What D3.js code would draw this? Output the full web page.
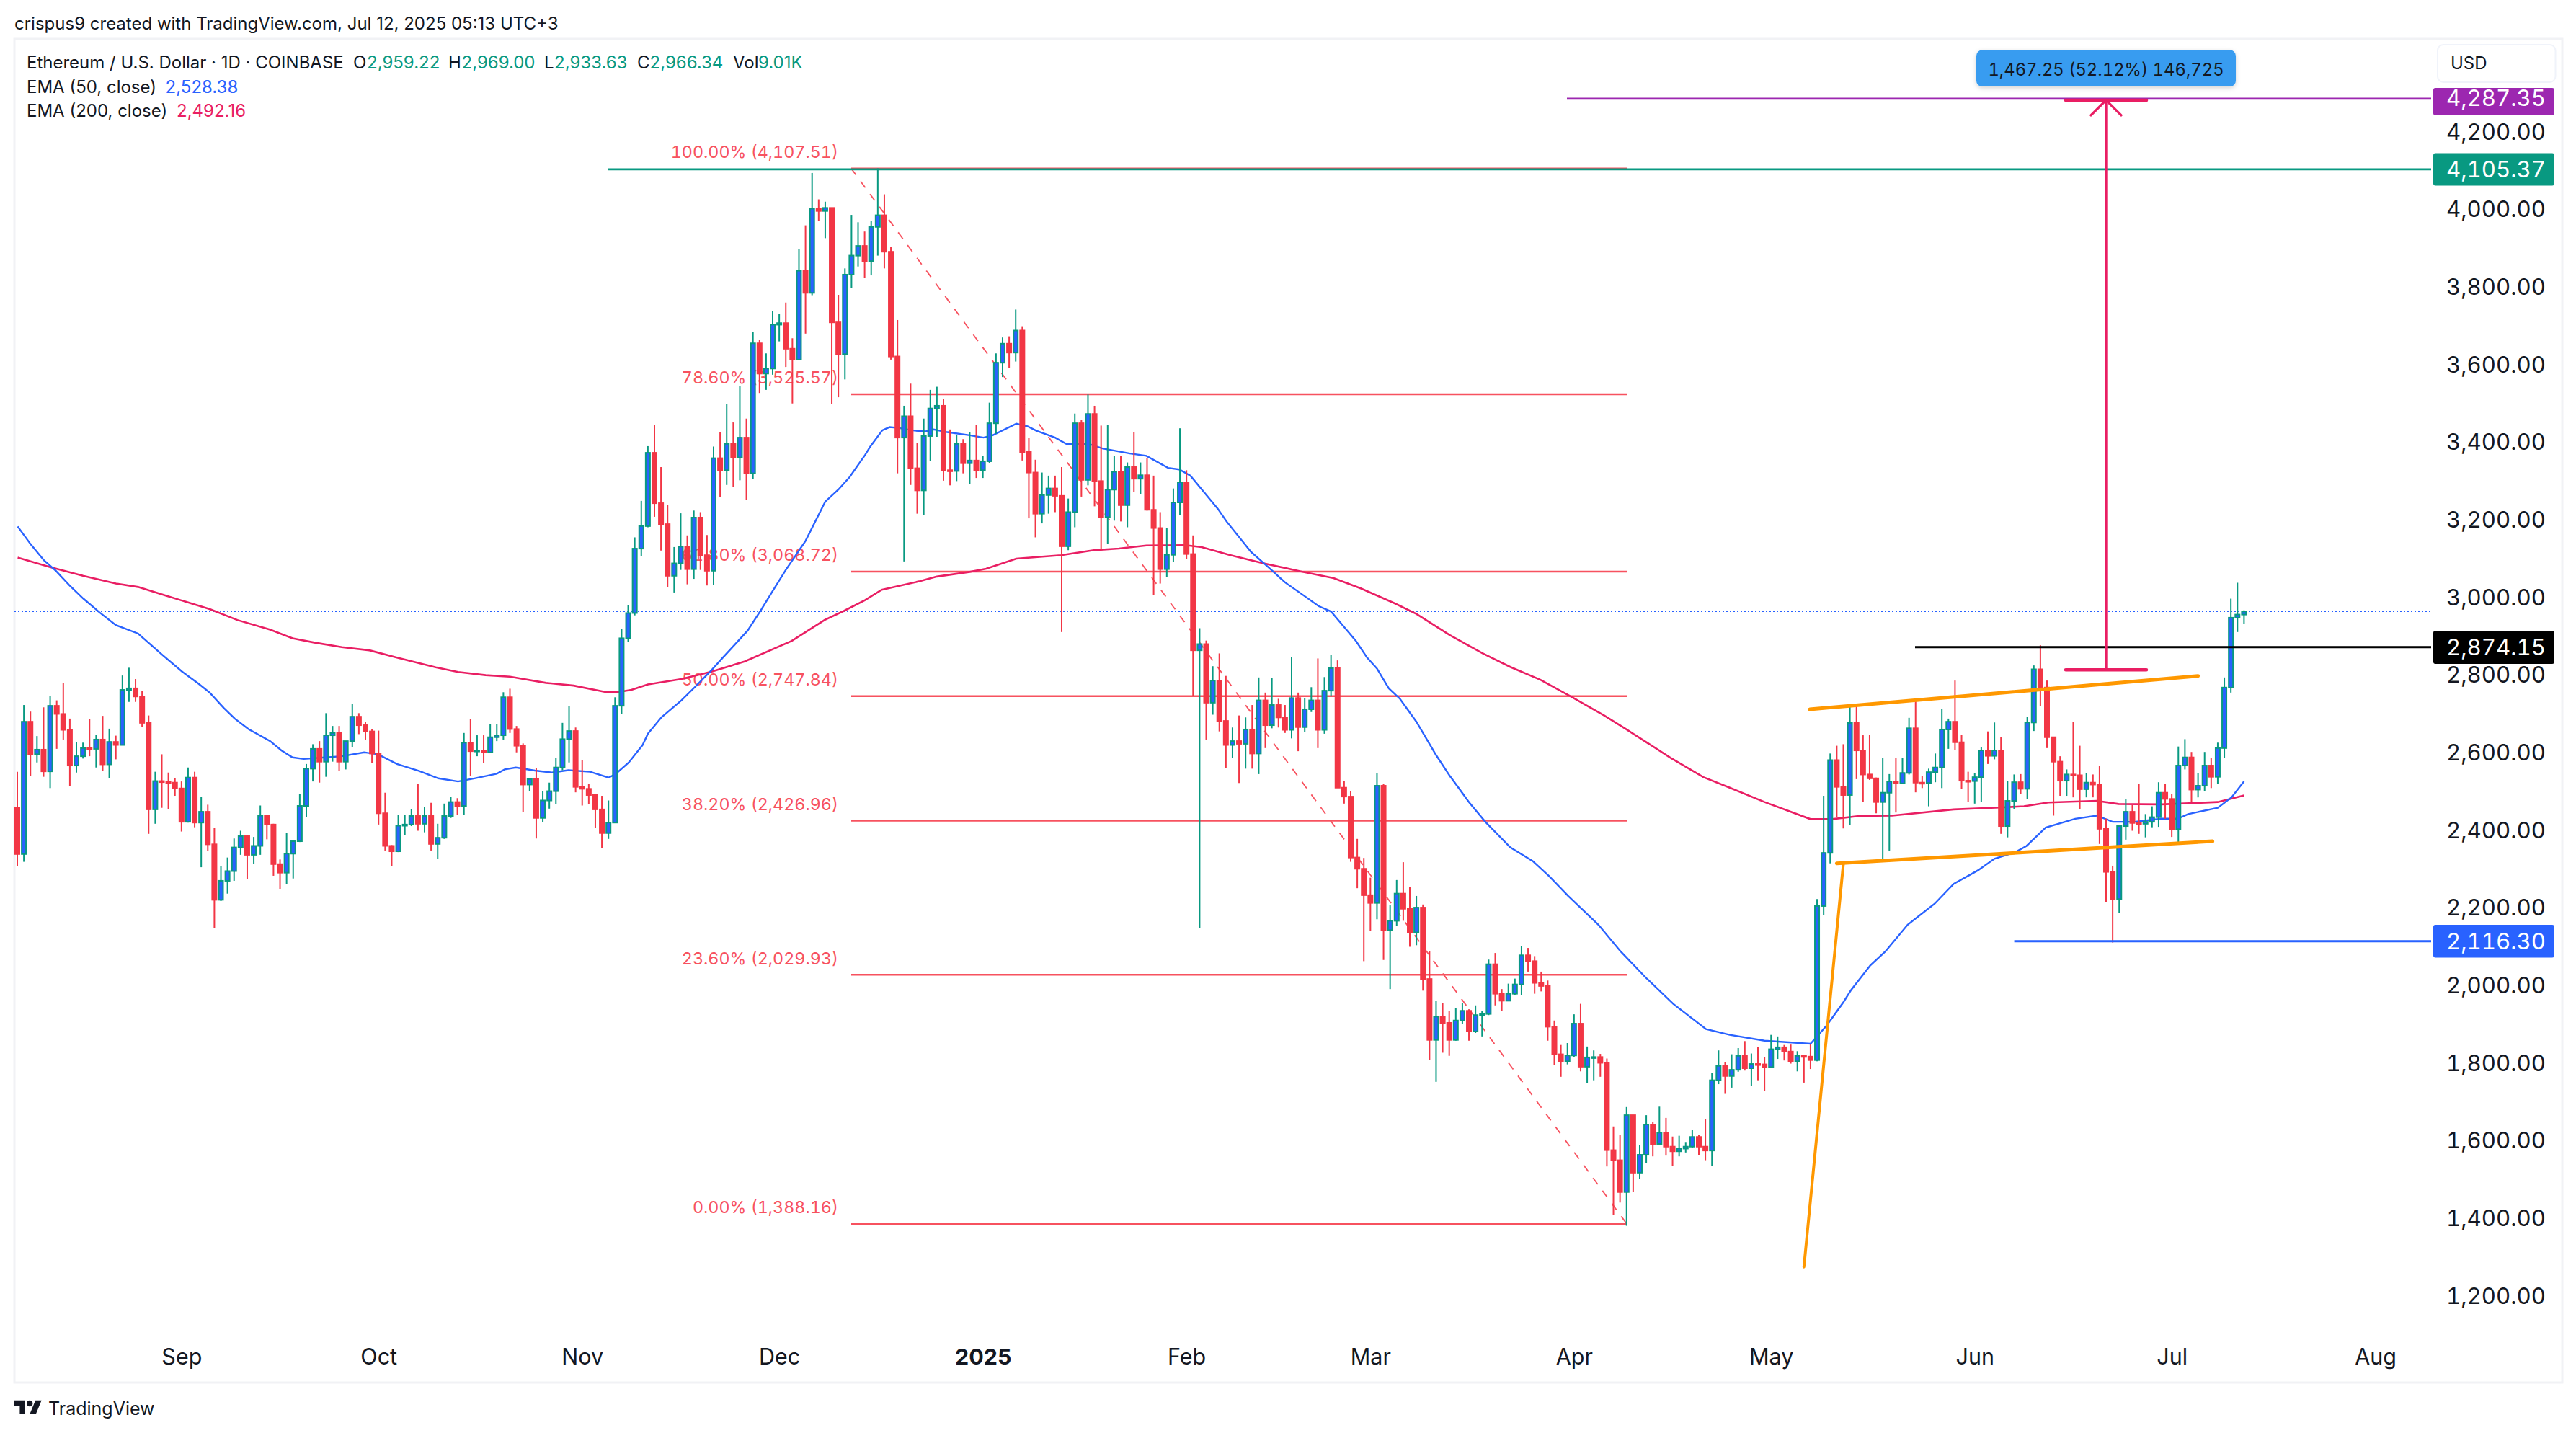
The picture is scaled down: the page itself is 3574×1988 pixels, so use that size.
<!DOCTYPE html>
<html><head><meta charset="utf-8">
<script src="https://cdn.jsdelivr.net/npm/d3@7/dist/d3.min.js"></script>
<style>html,body{margin:0;background:#fff}svg{display:block}text{font-family:Inter,"Noto Sans",sans-serif}.tn,.tn text{font-variant-numeric:tabular-nums;font-feature-settings:"tnum" 1}</style>
</head><body><svg id="c" width="3574" height="1988"></svg>
<script>
const firstOpen = 2461;
const closes = [2341,2682,2598,2610,2554,2723,2702,2661,2569,2593,2614,2612,2636,2572,2630,2622,2764,2768,2747,2679,
2456,2529,2527,2525,2510,2424,2538,2422,2450,2366,2223,2272,2297,2358,2387,2339,2362,2440,2417,2315,
2293,2342,2374,2465,2561,2612,2579,2647,2653,2579,2632,2695,2673,2657,2600,2446,2362,2348,2414,2417,
2439,2419,2439,2367,2383,2439,2475,2465,2628,2606,2608,2603,2642,2647,2745,2663,2620,2520,2534,2434,
2479,2503,2564,2637,2658,2514,2509,2493,2456,2395,2422,2723,2897,2962,3128,3186,3375,3245,3191,3058,
3090,3133,3075,3208,3111,3071,3361,3330,3398,3363,3414,3322,3657,3579,3592,3705,3709,3643,3615,3844,
3787,4004,3998,4006,3711,3629,3834,3883,3908,3869,3957,3987,3893,3623,3414,3469,3335,3278,3418,3489,
3496,3330,3328,3398,3348,3355,3330,3353,3451,3607,3656,3633,3690,3377,3324,3218,3266,3283,3264,3134,
3222,3451,3305,3475,3302,3209,3280,3326,3240,3338,3308,3317,3228,3181,3075,3112,3247,3299,3114,2866,
2882,2731,2788,2684,2622,2632,2625,2662,2600,2737,2673,2725,2693,2661,2743,2668,2714,2737,2661,2762,
2820,2512,2489,2332,2303,2235,2215,2517,2145,2169,2239,2200,2139,2203,2019,1862,1922,1906,1862,1912,
1937,1884,1926,1929,2057,1981,1963,1981,2005,2080,2065,2009,2001,1896,1825,1807,1822,1904,1793,1817,
1818,1803,1578,1552,1470,1668,1520,1566,1644,1594,1623,1587,1575,1582,1587,1612,1587,1577,1758,1795,
1769,1785,1821,1789,1800,1799,1792,1838,1843,1832,1807,1821,1819,1810,2207,2344,2583,2514,2493,2679,
2608,2546,2536,2475,2499,2528,2523,2550,2665,2525,2524,2552,2564,2662,2682,2629,2530,2529,2539,2608,
2594,2608,2413,2478,2526,2509,2680,2817,2770,2642,2579,2530,2546,2544,2508,2525,2520,2406,2295,2225,
2413,2450,2421,2419,2424,2436,2499,2483,2405,2569,2590,2507,2517,2569,2540,2614,2770,2950,2958,2966];
const highs = [2553,2725,2708,2645,2719,2749,2737,2782,2690,2630,2628,2689,2649,2697,2664,2646,2801,2821,2792,2762,
2698,2553,2598,2551,2536,2528,2564,2553,2489,2468,2409,2311,2332,2381,2401,2389,2385,2466,2442,2419,
2327,2395,2374,2495,2573,2624,2632,2704,2671,2671,2632,2728,2704,2681,2663,2659,2499,2364,2442,2442,
2457,2521,2462,2473,2419,2471,2489,2485,2653,2688,2647,2647,2675,2675,2758,2767,2671,2626,2534,2563,
2504,2525,2589,2679,2722,2667,2583,2522,2493,2491,2479,2745,2921,2983,3157,3251,3392,3446,3338,3241,
3132,3219,3162,3226,3222,3163,3391,3429,3500,3453,3547,3463,3687,3666,3631,3740,3732,3762,3670,3899,
3961,4096,4028,4022,4006,3782,3850,3988,3969,3945,3973,4108,4041,3906,3717,3496,3553,3400,3463,3537,
3545,3514,3435,3420,3410,3428,3446,3367,3504,3631,3672,3675,3744,3701,3414,3357,3324,3316,3316,3338,
3257,3476,3459,3525,3496,3445,3447,3367,3367,3350,3428,3350,3361,3316,3222,3181,3283,3438,3330,3162,
2923,2891,2825,2858,2800,2667,2698,2693,2725,2796,2757,2794,2741,2725,2849,2757,2743,2771,2845,2797,
2854,2840,2530,2504,2380,2331,2280,2550,2522,2209,2274,2320,2256,2233,2211,2090,1962,1957,1936,1945,
1957,1941,1951,1936,2069,2086,1993,2007,2020,2104,2099,2078,2038,2015,1912,1849,1854,1928,1955,1845,
1835,1826,1814,1639,1617,1689,1668,1591,1668,1651,1690,1661,1613,1615,1599,1631,1617,1659,1777,1835,
1805,1825,1841,1859,1827,1843,1817,1875,1871,1849,1850,1833,1822,1851,2225,2491,2600,2620,2624,2727,
2725,2647,2649,2538,2589,2547,2589,2589,2692,2735,2542,2561,2600,2714,2690,2788,2649,2553,2550,2616,
2657,2680,2642,2530,2546,2547,2694,2827,2879,2788,2643,2593,2559,2682,2620,2550,2546,2569,2432,2311,
2413,2483,2467,2521,2444,2464,2526,2522,2495,2618,2637,2604,2550,2604,2589,2628,2796,2999,3040,2969];
const lows = [2310,2321,2542,2577,2540,2511,2612,2636,2516,2551,2587,2593,2564,2555,2536,2585,2622,2733,2733,2668,
2393,2419,2460,2456,2491,2399,2422,2410,2307,2348,2151,2220,2239,2272,2339,2276,2315,2339,2379,2285,
2251,2264,2278,2372,2436,2528,2525,2540,2579,2555,2559,2616,2650,2636,2575,2417,2350,2310,2346,2389,
2413,2401,2397,2350,2328,2380,2434,2442,2442,2542,2593,2575,2603,2632,2636,2653,2603,2450,2503,2381,
2424,2458,2470,2557,2577,2500,2466,2469,2409,2356,2380,2422,2702,2888,2956,3108,3183,3210,3123,3028,
3015,3073,3036,3050,3073,3033,3034,3261,3292,3287,3304,3253,3308,3529,3537,3576,3662,3596,3502,3615,
3682,3781,3973,3928,3500,3518,3564,3799,3855,3826,3832,3883,3850,3615,3322,3095,3292,3218,3214,3353,
3416,3303,3291,3302,3322,3295,3310,3310,3348,3424,3570,3593,3610,3355,3206,3157,3193,3218,3222,2913,
3124,3183,3262,3291,3237,3124,3140,3200,3198,3183,3273,3269,3226,3009,3038,3054,3093,3214,3101,2749,
2151,2636,2700,2657,2563,2589,2524,2561,2561,2547,2614,2665,2667,2653,2639,2606,2655,2707,2614,2651,
2747,2512,2471,2321,2253,2065,2143,2173,2068,1993,2155,2169,2102,2106,1989,1811,1754,1829,1821,1860,
1904,1860,1880,1871,1926,1951,1936,1963,1978,1978,2038,1981,1987,1860,1797,1767,1799,1818,1781,1750,
1758,1767,1536,1411,1443,1383,1471,1503,1544,1562,1593,1564,1538,1562,1572,1583,1565,1552,1538,1748,
1723,1739,1780,1783,1744,1758,1731,1791,1813,1809,1801,1781,1752,1787,1807,2184,2317,2436,2407,2415,
2534,2475,2532,2446,2321,2350,2448,2522,2546,2500,2511,2464,2526,2511,2612,2608,2508,2475,2471,2475,
2573,2585,2393,2384,2456,2495,2483,2658,2722,2614,2440,2491,2491,2487,2456,2487,2487,2367,2217,2113,
2190,2378,2401,2393,2384,2410,2411,2432,2385,2372,2559,2475,2487,2503,2511,2522,2589,2757,2913,2934];

const ema50Idx = [0.06,2,4.1,5.8,7.9,10,12.5,15,18.4,22.1,25.1,27.6,29.3,31.4,33.1,35.2,38.5,40.2,41.9,43.6,46.1,49.4,52.8,54.9,57.8,61.2,64.1,67.1,69.6,73,74.2,75.9,78.8,81.4,83.9,87.2,90,91,93.1,95.2,96,98.1,101.1,103.2,105.7,107.4,109.1,111.2,113.3,115,117,120,123,125,126.7,129.05,129.9,131.7,132.8,134.1,136.6,138.3,139.5,141.6,145,147.1,148.5,152.1,153.8,155.1,158,159.7,163.1,165.2,169.4,171.9,175.2,176.9,178.6,182.8,184.1,187.8,191.2,193,196.2,198.1,200,203.8,205.5,207,208.8,210.5,213,216,218.1,221,223.5,227.3,230.7,233.2,236.1,240.7,244.1,247.9,252.1,257.1,260.7,266,273,275.5,278,279.2,282.1,284.4,287.8,291.9,294.8,298.5,301,304.2,305.9,308.8,313.3,316.6,319,322.3,326.4,328.9,330.5,335,337.1,339];
const ema50Val = [3185,3140,3097,3072,3034,3000,2964,2931,2909,2854,2811,2780,2757,2718,2690,2663,2632,2608,2590,2586,2589,2593,2603,2598,2573,2555,2536,2528,2536,2548,2559,2564,2556,2551,2557,2553,2538,2546,2577,2622,2651,2694,2737,2772,2815,2847,2878,2917,2972,3019,3073,3148,3249,3280,3312,3369,3392,3433,3441,3439,3432,3430,3435,3428,3420,3414,3420,3450,3443,3432,3414,3398,3398,3386,3373,3367,3336,3332,3316,3230,3198,3120,3069,3041,3003,2980,2966,2890,2847,2819,2768,2741,2682,2596,2542,2475,2424,2358,2323,2284,2233,2159,2090,2023,1955,1890,1875,1860,1852,1900,1959,1991,2054,2090,2159,2213,2264,2299,2329,2346,2362,2409,2432,2440,2424,2424,2432,2432,2444,2460,2487,2528];
const ema200Idx = [0.06,4.9,10,15,18.4,22.6,29.3,33.5,38.5,41.9,45.2,49.4,53.6,57.8,63.7,67.1,71.3,75,80.5,84.7,89.7,91.4,93.5,96,101.1,105.7,110.7,117.9,122.9,125.9,129.05,131.6,137.4,140,145,147.5,152.1,158.9,163.9,167.7,171.9,177.8,180.3,184.5,189.5,195.4,200.4,204.6,209.7,213,218.1,223.1,227.3,231.9,236.5,241.6,244.9,251.7,256.7,260.7,266,273,276.3,280.4,285.4,294.8,301.8,305.5,309.2,316.6,319.9,326.4,335,339];
const ema200Val = [3105,3081,3058,3038,3029,3007,2972,2944,2919,2897,2886,2874,2866,2847,2822,2810,2802,2798,2782,2775,2758,2758,2764,2778,2792,2811,2837,2890,2944,2968,2995,3022,3044,3056,3068,3076,3102,3111,3124,3128,3136,3137,3132,3112,3091,3069,3052,3025,2987,2960,2905,2858,2823,2790,2747,2698,2663,2589,2539,2512,2475,2431,2431,2439,2440,2456,2461,2464,2474,2478,2470,2469,2475,2492];

const priceTicks = [4200,4000,3800,3600,3400,3200,3000,2800,2600,2400,2200,2000,1800,1600,1400,1200];
const monthIdx = [25,55,86,116,147,178,206,237,267,298,328,359];
const monthLabels = ["Sep","Oct","Nov","Dec","2025","Feb","Mar","Apr","May","Jun","Jul","Aug"];
const fibLevels = [4107.51,3525.57,3068.72,2747.84,2426.96,2029.93,1388.16];
const fibPcts = ["100.00%","78.60%","61.80%","50.00%","38.20%","23.60%","0.00%"];
const orangeSegs = [[272,1277,278,2315],[277,2317,334.2,2374],[272.9,2714,332,2800]];
const measureVals = [4287.35,2820.1];
const legendOHLC = [["O","2,959.22",490,509],["H","2,969.00",622,640.5],["L","2,933.63",755,769],["C","2,966.34",884,901.5],["Vol","9.01K",1017,1052]];

const UP="#089981",UPFILL="#2962FF",DOWN="#F23645",FIB="#F7525F",BLUE="#2962FF",PINK="#E91E63",ORANGE="#FF9800",PURPLE="#9C27B0",INK="#131722";
const svg=d3.select("#c");
const x=d3.scaleLinear().domain([0,339]).range([24,3113.4]);
const y=d3.scaleLinear().domain([4000,1200]).range([291.6,1799.1]);
const num=d3.format(",.2f");
const AX_END=3373;

// frame
svg.append("rect").attr("x",20).attr("y",54).attr("width",3535).attr("height",1864).attr("fill","#fff").attr("stroke","#f1f2f5").attr("stroke-width",3);

// header
svg.append("text").attr("x",20).attr("y",32).attr("dy",".36em").attr("font-size",24).attr("fill",INK).text("crispus9 created with TradingView.com, Jul 12, 2025 05:13 UTC+3");
svg.append("text").attr("x",37).attr("y",86).attr("dy",".36em").attr("font-size",24).attr("fill",INK).text("Ethereum / U.S. Dollar · 1D · COINBASE");
legendOHLC.forEach(([k,v,kx,vx])=>{
  svg.append("text").attr("x",kx).attr("y",86).attr("dy",".36em").attr("font-size",24).attr("fill",INK).text(k);
  svg.append("text").attr("x",vx).attr("y",86).attr("dy",".36em").attr("font-size",24).attr("fill",UP).text(v);
});
[["EMA (50, close)","2,528.38",BLUE,120,229.6],["EMA (200, close)","2,492.16",PINK,153.6,245]].forEach(([t,v,c,yy,vx])=>{
  svg.append("text").attr("x",37).attr("y",yy).attr("dy",".36em").attr("font-size",24).attr("fill",INK).text(t);
  svg.append("text").attr("x",vx).attr("y",yy).attr("dy",".36em").attr("font-size",24).attr("fill",c).text(v);
});

// fib
const fib=svg.append("g");
fib.selectAll("text").data(fibLevels).join("text").attr("class","tn").attr("x",1163).attr("y",d=>y(d)-23).attr("dy",".36em")
  .attr("text-anchor","end").attr("font-size",23.3).attr("fill",FIB).text((d,i)=>`${fibPcts[i]} (${num(d)})`);
fib.selectAll("line").data(fibLevels).join("line").attr("x1",1181).attr("x2",2257).attr("y1",d=>y(d)).attr("y2",d=>y(d))
  .attr("stroke",FIB).attr("stroke-width",2.6);
fib.append("line").attr("x1",1181).attr("y1",y(4107.51)).attr("x2",2257).attr("y2",y(1388.16))
  .attr("stroke",FIB).attr("stroke-width",1.8).attr("stroke-dasharray","11 11");

// current price dotted
svg.append("line").attr("x1",20).attr("x2",AX_END).attr("y1",y(2966.34)).attr("y2",y(2966.34))
  .attr("stroke",BLUE).attr("stroke-width",2).attr("stroke-dasharray","2 3");

// EMA
const line=d3.line().x(d=>x(d[0])).y(d=>y(d[1]));
svg.append("path").attr("d",line(d3.zip(ema200Idx,ema200Val))).attr("fill","none").attr("stroke",PINK).attr("stroke-width",2.6);
svg.append("path").attr("d",line(d3.zip(ema50Idx,ema50Val))).attr("fill","none").attr("stroke",BLUE).attr("stroke-width",2.4);

// candles
const opens=closes.map((c,i)=>i?closes[i-1]:firstOpen);
const cg=svg.append("g").selectAll("g").data(closes).join("g");
cg.append("line").attr("x1",(d,i)=>x(i)).attr("x2",(d,i)=>x(i)).attr("y1",(d,i)=>y(highs[i])).attr("y2",(d,i)=>y(lows[i]))
  .attr("stroke",(d,i)=>d>=opens[i]?UP:DOWN).attr("stroke-width",2);
cg.append("rect").attr("x",(d,i)=>x(i)-3).attr("width",6)
  .attr("y",(d,i)=>y(Math.max(d,opens[i]))).attr("height",(d,i)=>Math.max(1.5,Math.abs(y(d)-y(opens[i]))))
  .attr("fill",(d,i)=>d>=opens[i]?UPFILL:DOWN).attr("stroke",(d,i)=>d>=opens[i]?UP:DOWN).attr("stroke-width",2);

// horizontal drawings
[[843,4105.37,UP,2.6],[2174,4287.35,PURPLE,2.6],[2657,2874.15,"#000",2.8],[2794.6,2116.3,BLUE,2.8]].forEach(([x1,p,c,w])=>{
  svg.append("line").attr("x1",x1).attr("x2",AX_END).attr("y1",y(p)).attr("y2",y(p)).attr("stroke",c).attr("stroke-width",w);
});

// orange channel
svg.append("g").selectAll("line").data(orangeSegs).join("line")
  .attr("x1",d=>x(d[0])).attr("y1",d=>y(d[1])).attr("x2",d=>x(d[2])).attr("y2",d=>y(d[3]))
  .attr("stroke",ORANGE).attr("stroke-width",(d,i)=>i?5:4).attr("stroke-linecap","round");

// measure arrow
const ax=2922,at=y(measureVals[0])+2,ab=y(measureVals[1])+2.5;
const m=svg.append("g").attr("stroke",PINK).attr("fill","none").attr("stroke-linecap","round");
m.append("line").attr("x1",ax).attr("x2",ax).attr("y1",at).attr("y2",ab).attr("stroke-width",3.4);
m.append("line").attr("x1",ax-56).attr("x2",ax+56).attr("y1",at).attr("y2",at).attr("stroke-width",4.5);
m.append("line").attr("x1",ax-56).attr("x2",ax+56).attr("y1",ab).attr("y2",ab).attr("stroke-width",4.5);
m.append("path").attr("d",`M${ax-21},${at+21}L${ax},${at}L${ax+21},${at+21}`).attr("stroke-width",3.4);
const defs=svg.append("defs");
const fl=defs.append("filter").attr("id","sh").attr("x","-10%").attr("y","-30%").attr("width","120%").attr("height","170%");
fl.append("feDropShadow").attr("dx",0).attr("dy",2).attr("stdDeviation",3).attr("flood-color","#000").attr("flood-opacity",.18);
svg.append("rect").attr("x",2742).attr("y",69.5).attr("width",360).attr("height",50.5).attr("rx",8).attr("fill","#379CF0").attr("filter","url(#sh)");
svg.append("text").attr("class","tn").attr("x",ax).attr("y",96).attr("dy",".36em").attr("text-anchor","middle").attr("font-size",23.8).attr("fill",INK).text("1,467.25 (52.12%) 146,725");

// price axis
const yAxis=d3.axisRight(y).tickValues(priceTicks).tickSize(0).tickPadding(0).tickFormat(num);
const ya=svg.append("g").attr("class","tn").attr("transform","translate(3463,-2)").call(yAxis);
ya.select(".domain").remove();
ya.selectAll("text").attr("x",0).attr("dy",".36em").attr("text-anchor","middle").attr("font-size",31.2).attr("font-family","Inter").attr("fill",INK);

// time axis
const xAxis=d3.axisBottom(x).tickValues(monthIdx).tickSize(0).tickPadding(0).tickFormat((d,i)=>monthLabels[i]);
const xa=svg.append("g").attr("transform","translate(0,1881.6)").call(xAxis);
xa.select(".domain").remove();
xa.selectAll("text").attr("y",0).attr("dy",".36em").attr("text-anchor","middle").attr("font-size",30.5).attr("font-family","Inter").attr("fill",INK)
  .attr("font-weight",(d,i)=>monthLabels[i]==="2025"?700:400);

// price tags
[[122,38,PURPLE,"4,287.35"],[212.5,45,UP,"4,105.37"],[875,46,"#000","2,874.15"],[1283,45.5,BLUE,"2,116.30"]].forEach(([t,h,c,s],i)=>{
  svg.append("rect").attr("x",3376).attr("y",t).attr("width",168).attr("height",h).attr("rx",3).attr("fill",c);
  svg.append("text").attr("class","tn").attr("x",3463).attr("y",i===0?135.5:t+h/2).attr("dy",".36em").attr("text-anchor","middle").attr("font-size",31.2).attr("fill","#fff").text(s);
});
// USD box
svg.append("rect").attr("x",3382).attr("y",62).attr("width",163.5).attr("height",52).attr("rx",8).attr("fill","#fff").attr("stroke","#f0f3fa").attr("stroke-width",2);
svg.append("text").attr("x",3400).attr("y",87.5).attr("dy",".36em").attr("font-size",24).attr("fill",INK).text("USD");

// footer
const lg=svg.append("g").attr("transform","translate(20,1938.6) scale(1.06)").attr("fill",INK);
lg.append("path").attr("d","M14 22H7V11H0V4h14v18zM28 22h-8l7.5-18h8L28 22z");
lg.append("circle").attr("cx",20).attr("cy",8).attr("r",4);
svg.append("text").attr("x",67).attr("y",1954).attr("dy",".36em").attr("font-size",25).attr("font-weight",400).attr("fill",INK).text("TradingView");
</script></body></html>
